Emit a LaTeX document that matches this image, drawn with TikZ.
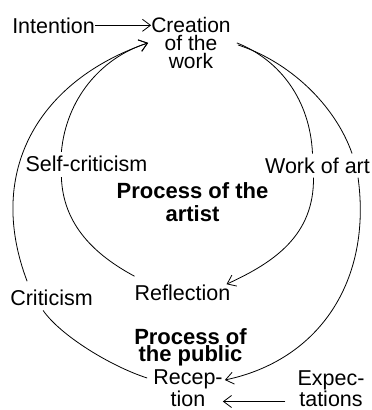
\documentclass[tikz,border=0pt]{standalone}
\usepackage{fontspec}
\setmainfont{Liberation Sans}
\usetikzlibrary{arrows.meta}

\begin{document}
\begin{tikzpicture}[x=1pt,y=1pt,yscale=-1,xscale=1,
	lbl/.style={inner sep=0pt,font=\fontsize{21.5}{20}\selectfont,align=center},
	head/.style={inner sep=0pt,align=center},
	loop/.style={line width=0.8pt},
	tip/.style={loop,-{Straight Barb[length=8pt,width=12pt]}}]
	\useasboundingbox (0,0) rectangle (372,410);
	% labels
	\draw (53.5,33) node [lbl,anchor=base] (intention) {Intention};
	\draw (191,17) node [lbl,anchor=north,font=\fontsize{21}{18}\selectfont] (creation) {Creation\\of the\\work};
	\draw (86.5,171.7) node [lbl,anchor=base] (selfcrit) {Self-criticism};
	\draw (317.5,173.3) node [lbl,anchor=base] (workart) {Work of art};
	\draw (192.5,182.3) node [head,anchor=north,font=\fontsize{22}{23.4}\selectfont\bfseries] (artist) {Process of the\\artist};
	\draw (182.5,300) node [lbl,anchor=base] (reflection) {Reflection};
	\draw (51.5,305) node [lbl,anchor=base] (criticism) {Criticism};
	\draw (190.5,328) node [head,anchor=north,font=\fontsize{22}{17.5}\selectfont\bfseries] (public) {Process of\\the public};
	\draw (188,370) node [lbl,anchor=north] (reception) {Recep-\\tion};
	\draw (331,370.5) node [lbl,anchor=north,font=\fontsize{21.5}{19.5}\selectfont] (expect) {Expec-\\tations};
	% outer loop
	\draw [loop] ([xshift=-6pt,yshift=8pt]reception.north west) .. controls (110,366) and (60,335) .. ([xshift=33pt,yshift=5pt]criticism.south west);
	\draw [tip] ([xshift=17pt,yshift=-8pt]criticism.north west) .. controls (-15,170) and (40,80) .. ([xshift=-3pt]creation.west);
	\draw [loop] ([xshift=7pt,yshift=2pt]creation.east) .. controls (290,62) and (335,105) .. ([xshift=-18pt,yshift=-4pt]workart.north east);
	\draw [tip] ([xshift=-12pt,yshift=4pt]workart.south east) .. controls (372,280) and (320,360) .. ([xshift=2pt,yshift=10pt]reception.north east);
	% inner loop
	\draw [loop] ([xshift=6pt]creation.east) .. controls (280,60) and (310,100) .. ([xshift=-5pt,yshift=-4pt]workart.north);
	\draw [tip] ([xshift=-4pt,yshift=4pt]workart.south) .. controls (314,235) and (275,262) .. ([xshift=-4pt]reflection.north east);
	\draw [loop] ([yshift=-8pt]reflection.north west) .. controls (95,255) and (63,225) .. ([xshift=36pt,yshift=5pt]selfcrit.south west);
	\draw [tip] ([xshift=36pt,yshift=-4pt]selfcrit.north west) .. controls (66,100) and (100,58) .. ([xshift=-3pt]creation.west);
	% inputs
	\draw [tip] (intention.east) -- (intention.east -| creation.west);
	\coordinate (expin) at ([xshift=-12pt,yshift=31pt]expect.north west);
	\draw [tip] (expin) -- (expin -| reception.east);
\end{tikzpicture}
\end{document}
